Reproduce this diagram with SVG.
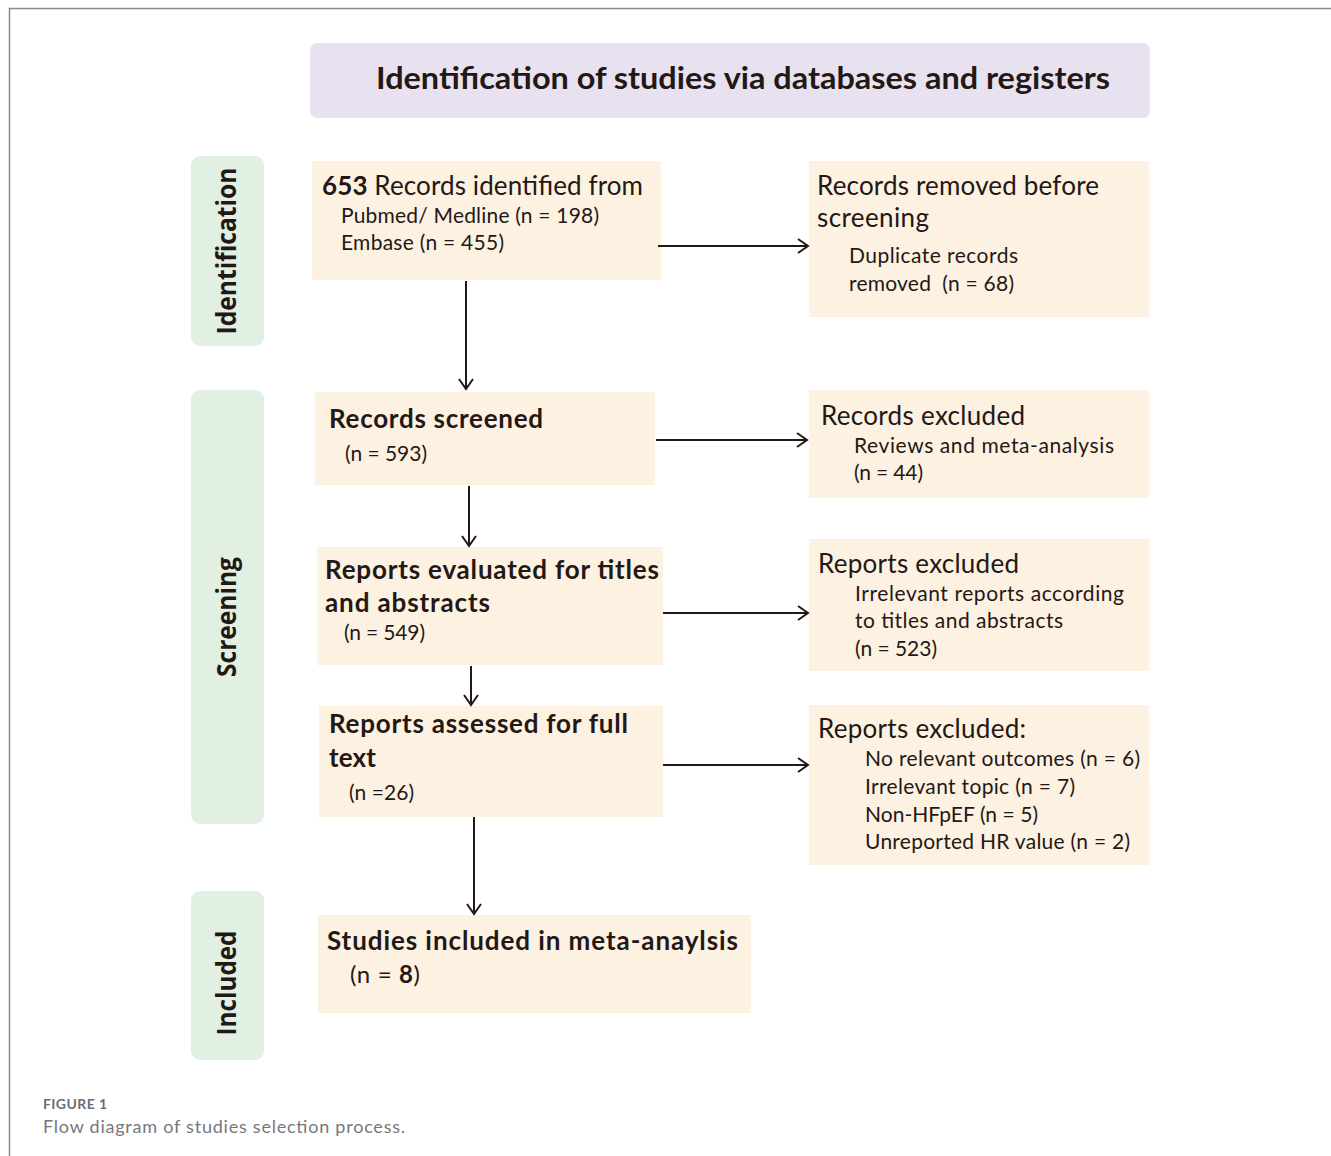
<svg xmlns="http://www.w3.org/2000/svg" width="1331" height="1156" viewBox="0 0 1331 1156">
<defs>
<style>
.box{fill:#fdf1e1}
.side{fill:#e1f0e2}
.t{font-family:Lato,"Noto Sans",sans-serif;fill:#231815}
.h{font-size:26px}
.s{font-size:21px}
.b{font-weight:bold}
.lab{font-family:"Open Sans","Noto Sans",sans-serif;font-weight:bold;font-size:26px;fill:#231815}
.con{stroke:#231815;stroke-width:2;fill:none}
</style>
<marker id="ah" markerUnits="userSpaceOnUse" markerWidth="14" markerHeight="18" refX="11" refY="8" orient="auto">
<path d="M1,1 L11,8 L1,15" fill="none" stroke="#231815" stroke-width="2"/>
</marker>
</defs>
<rect width="1331" height="1156" fill="#ffffff"/>
<path d="M9.5,1156 V8.5 H1331" fill="none" stroke="#8a8a8a" stroke-width="1.5"/>

<g id="title">
<rect x="310" y="43" width="840" height="75" rx="7" fill="#e8e1ef"/>
<text class="t b" x="376" y="89" font-size="31" textLength="734" lengthAdjust="spacingAndGlyphs">Identification of studies via databases and registers</text>
</g>

<g id="phase-identification">
<rect class="side" x="191" y="156" width="73" height="190" rx="9"/>
<text class="lab" transform="translate(236,251) rotate(-90)" text-anchor="middle" textLength="167" lengthAdjust="spacingAndGlyphs">Identification</text>
</g>
<g id="phase-screening">
<rect class="side" x="191" y="390" width="73" height="434" rx="9"/>
<text class="lab" transform="translate(236,617) rotate(-90)" text-anchor="middle" textLength="120" lengthAdjust="spacingAndGlyphs">Screening</text>
</g>
<g id="phase-included">
<rect class="side" x="191" y="891" width="73" height="169" rx="9"/>
<text class="lab" transform="translate(236,983) rotate(-90)" text-anchor="middle" textLength="105" lengthAdjust="spacingAndGlyphs">Included</text>
</g>

<g id="identified">
<rect class="box" x="312" y="161" width="349" height="119"/>
<text class="t h" x="322" y="195" textLength="321"><tspan class="b">653</tspan> Records identified from</text>
<text class="t s" x="341" y="223" textLength="258">Pubmed/ Medline (n = 198)</text>
<text class="t s" x="341" y="250" textLength="163">Embase (n = 455)</text>
</g>

<g id="removed">
<rect class="box" x="809" y="161" width="340" height="156"/>
<text class="t h" x="817" y="195" textLength="282">Records removed before</text>
<text class="t h" x="817" y="227" textLength="112">screening</text>
<text class="t s" x="849" y="263" textLength="169">Duplicate records</text>
<text class="t s" x="849" y="291" textLength="165" xml:space="preserve">removed  (n = 68)</text>
</g>

<g id="screened">
<rect class="box" x="315" y="392" width="340" height="93"/>
<text class="t h b" x="329" y="428" textLength="214">Records screened</text>
<text class="t s" x="345" y="461" textLength="82">(n = 593)</text>
</g>

<g id="excluded1">
<rect class="box" x="809" y="390" width="340" height="108"/>
<text class="t h" x="821" y="425" textLength="204">Records excluded</text>
<text class="t s" x="854" y="453" textLength="260">Reviews and meta-analysis</text>
<text class="t s" x="854" y="480" textLength="69">(n = 44)</text>
</g>

<g id="evaluated">
<rect class="box" x="317" y="547" width="346" height="118"/>
<text class="t h b" x="325" y="579" textLength="334">Reports evaluated for titles</text>
<text class="t h b" x="325" y="612" textLength="165">and abstracts</text>
<text class="t s" x="344" y="640" textLength="81">(n = 549)</text>
</g>

<g id="excluded2">
<rect class="box" x="809" y="539" width="340" height="132"/>
<text class="t h" x="818" y="573" textLength="201">Reports excluded</text>
<text class="t s" x="855" y="601" textLength="269">Irrelevant reports according</text>
<text class="t s" x="855" y="628" textLength="208">to titles and abstracts</text>
<text class="t s" x="855" y="656" textLength="82">(n = 523)</text>
</g>

<g id="assessed">
<rect class="box" x="319" y="706" width="344" height="111"/>
<text class="t h b" x="329" y="733" textLength="299">Reports assessed for full</text>
<text class="t h b" x="329" y="767" textLength="47">text</text>
<text class="t s" x="349" y="800" textLength="65">(n =26)</text>
</g>

<g id="excluded3">
<rect class="box" x="809" y="705" width="340" height="160"/>
<text class="t h" x="818" y="738" textLength="208">Reports excluded:</text>
<text class="t s" x="865" y="766" textLength="275">No relevant outcomes (n = 6)</text>
<text class="t s" x="865" y="794" textLength="210">Irrelevant topic (n = 7)</text>
<text class="t s" x="865" y="822" textLength="173">Non-HFpEF (n = 5)</text>
<text class="t s" x="865" y="849" textLength="265">Unreported HR value (n = 2)</text>
</g>

<g id="included">
<rect class="box" x="318" y="915" width="433" height="98"/>
<text class="t h b" x="327" y="950" textLength="411">Studies included in meta-anaylsis</text>
<text class="t" x="350" y="983" font-size="24" textLength="70">(n = <tspan class="b">8</tspan>)</text>
</g>

<g id="connectors">
<line class="con" x1="466" y1="281" x2="466" y2="389" marker-end="url(#ah)"/>
<line class="con" x1="658" y1="246" x2="808" y2="246" marker-end="url(#ah)"/>
<line class="con" x1="656" y1="440" x2="807" y2="440" marker-end="url(#ah)"/>
<line class="con" x1="469" y1="486" x2="469" y2="546" marker-end="url(#ah)"/>
<line class="con" x1="663" y1="613" x2="808" y2="613" marker-end="url(#ah)"/>
<line class="con" x1="471" y1="666" x2="471" y2="705" marker-end="url(#ah)"/>
<line class="con" x1="663" y1="765" x2="808" y2="765" marker-end="url(#ah)"/>
<line class="con" x1="474" y1="817" x2="474" y2="914" marker-end="url(#ah)"/>
</g>

<g id="caption">
<text x="43" y="1109" font-family="Lato,'Noto Sans',sans-serif" font-weight="bold" font-size="14" fill="#6d6e70" textLength="64">FIGURE 1</text>
<text x="43" y="1133" font-family="Lato,'Noto Sans',sans-serif" font-size="18" fill="#77787b" textLength="362">Flow diagram of studies selection process.</text>
</g>
</svg>
